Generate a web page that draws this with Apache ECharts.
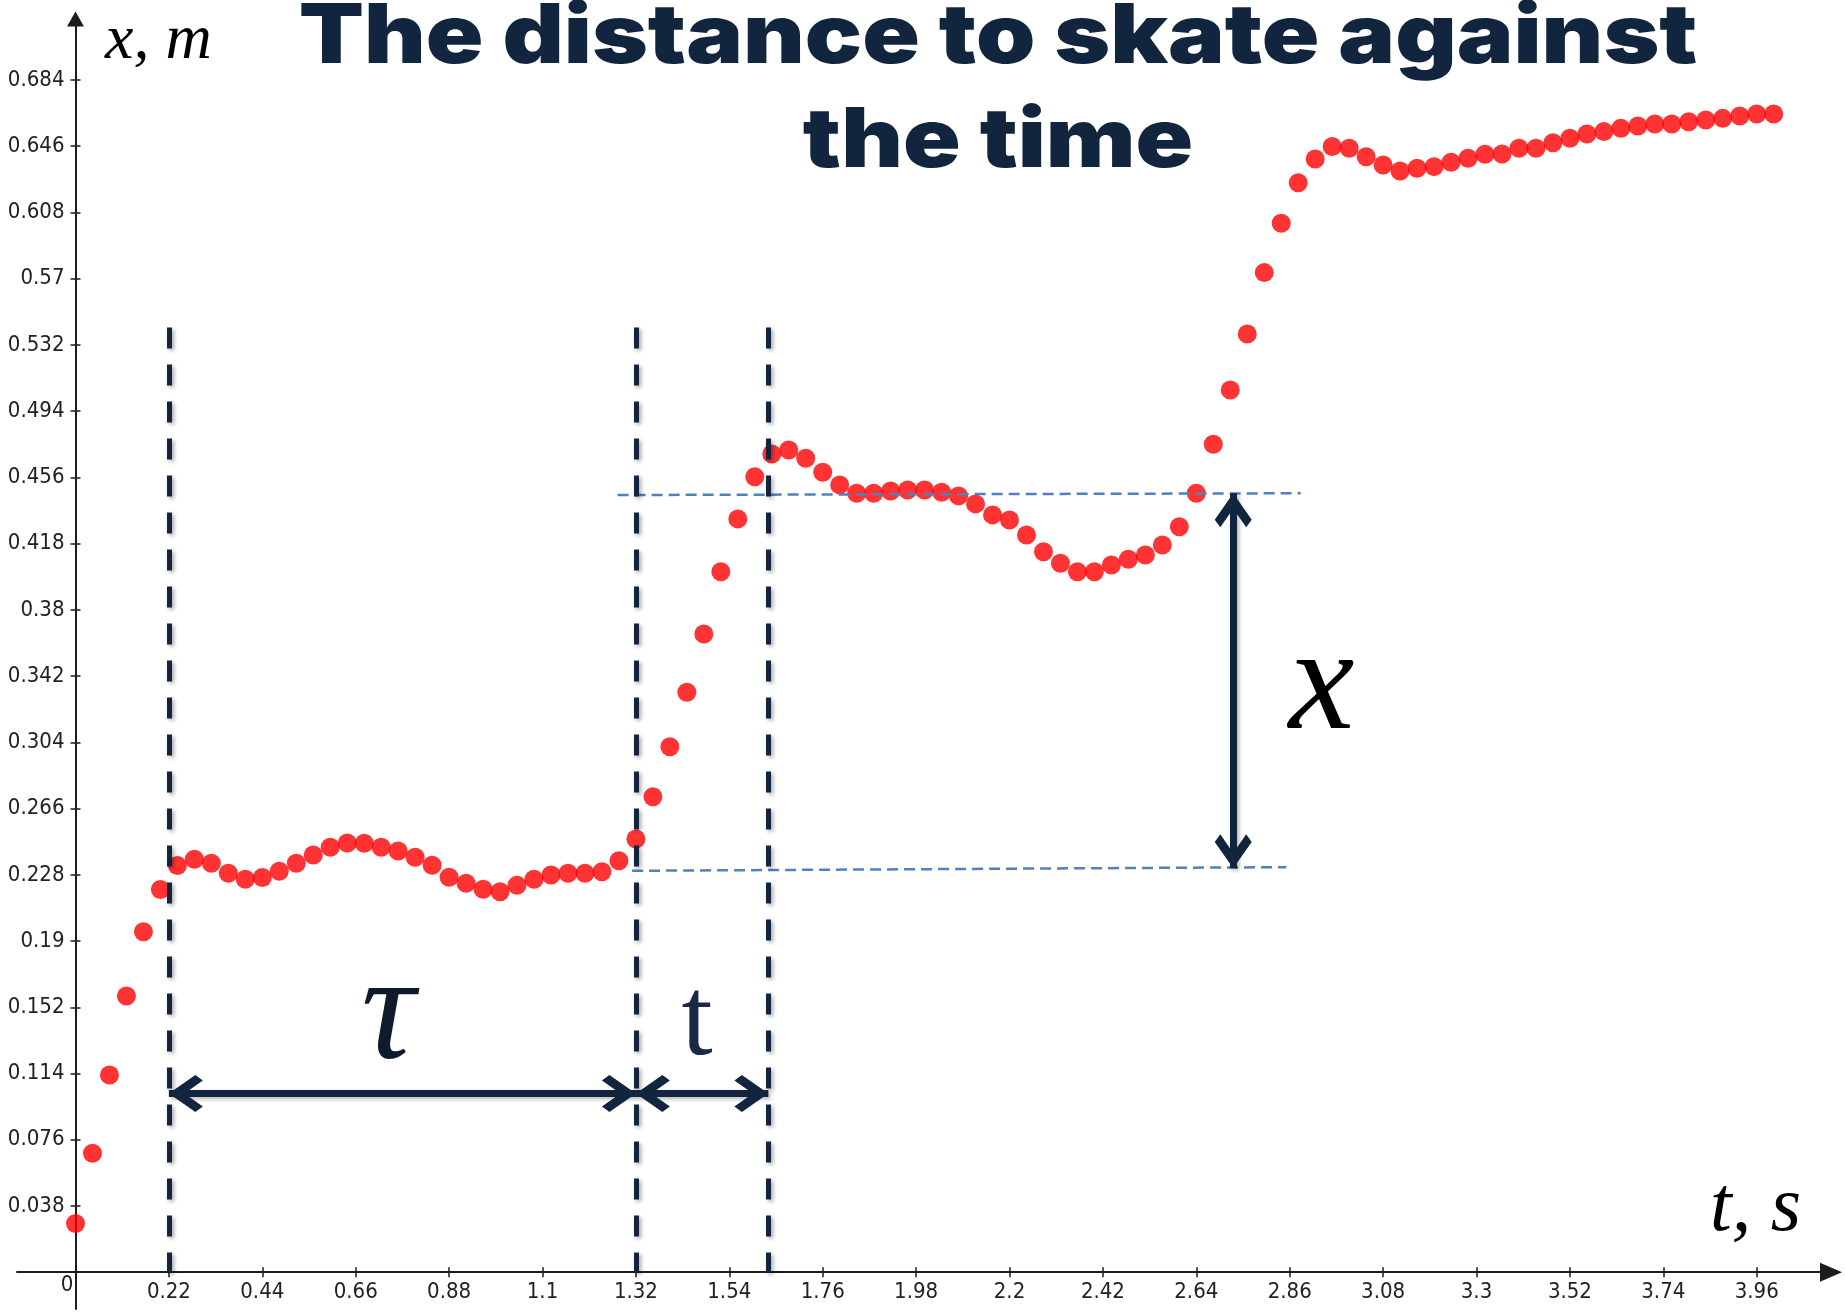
<!DOCTYPE html>
<html>
<head>
<meta charset="utf-8">
<script src="https://cdn.jsdelivr.net/npm/echarts@6/dist/echarts.min.js"></script>
<style>
  html, body { margin: 0; padding: 0; background: #ffffff; }
  #chart { width: 1845px; height: 1312px; }
</style>
</head>
<body>
<div id="chart"></div>
<script>
// Frame times, s
const times = [
  0.00, 0.04, 0.08, 0.12, 0.16, 0.20, 0.24, 0.28, 0.32, 0.36,
  0.40, 0.44, 0.48, 0.52, 0.56, 0.60, 0.64, 0.68, 0.72, 0.76,
  0.80, 0.84, 0.88, 0.92, 0.96, 1.00, 1.04, 1.08, 1.12, 1.16,
  1.20, 1.24, 1.28, 1.32, 1.36, 1.40, 1.44, 1.48, 1.52, 1.56,
  1.60, 1.64, 1.68, 1.72, 1.76, 1.80, 1.84, 1.88, 1.92, 1.96,
  2.00, 2.04, 2.08, 2.12, 2.16, 2.20, 2.24, 2.28, 2.32, 2.36,
  2.40, 2.44, 2.48, 2.52, 2.56, 2.60, 2.64, 2.68, 2.72, 2.76,
  2.80, 2.84, 2.88, 2.92, 2.96, 3.00, 3.04, 3.08, 3.12, 3.16,
  3.20, 3.24, 3.28, 3.32, 3.36, 3.40, 3.44, 3.48, 3.52, 3.56,
  3.60, 3.64, 3.68, 3.72, 3.76, 3.80, 3.84, 3.88, 3.92, 3.96,
  4.00
];

// Distance covered by the skate, m
const distances = [
  0.0280, 0.0683, 0.1132, 0.1585, 0.1953, 0.2196, 0.2333, 0.2369, 0.2346, 0.2289,
  0.2255, 0.2265, 0.2300, 0.2346, 0.2394, 0.2438, 0.2463, 0.2461, 0.2438, 0.2417,
  0.2381, 0.2335, 0.2266, 0.2232, 0.2197, 0.2183, 0.2220, 0.2255, 0.2279, 0.2289,
  0.2289, 0.2298, 0.2361, 0.2486, 0.2728, 0.3015, 0.3327, 0.3662, 0.4019, 0.4322,
  0.4564, 0.4694, 0.4717, 0.4670, 0.4590, 0.4517, 0.4469, 0.4469, 0.4482, 0.4488,
  0.4488, 0.4475, 0.4454, 0.4408, 0.4345, 0.4316, 0.4230, 0.4134, 0.4067, 0.4019,
  0.4019, 0.4058, 0.4090, 0.4115, 0.4172, 0.4277, 0.4469, 0.4750, 0.5061, 0.5383,
  0.5735, 0.6018, 0.6251, 0.6387, 0.6458, 0.6448, 0.6400, 0.6352, 0.6318, 0.6334,
  0.6343, 0.6368, 0.6391, 0.6414, 0.6416, 0.6448, 0.6448, 0.6480, 0.6506, 0.6530,
  0.6544, 0.6563, 0.6576, 0.6588, 0.6588, 0.6601, 0.6611, 0.6620, 0.6634, 0.6645,
  0.6645
];

// Axis tick values
const xTicks = [0.22, 0.44, 0.66, 0.88, 1.1, 1.32, 1.54, 1.76, 1.98, 2.2, 2.42, 2.64, 2.86, 3.08, 3.3, 3.52, 3.74, 3.96];
const yTicks = [0.038, 0.076, 0.114, 0.152, 0.19, 0.228, 0.266, 0.304, 0.342, 0.38, 0.418, 0.456, 0.494, 0.532, 0.57, 0.608, 0.646, 0.684];

// Interval boundaries (τ between the first two, t between the last two)
const guideTimes = [0.22, 1.32, 1.632];
const guideTop = 0.542;

// Resting levels before and after the push: [t1, x1, t2, x2]
const levelLines = [
  [1.277, 0.4459, 2.886, 0.4469],
  [1.311, 0.2303, 2.852, 0.2324]
];

// Double-headed span arrows: [t1, x1, t2, x2]
const spanArrows = [
  [0.22, 0.1025, 1.32, 0.1025],
  [1.32, 0.1025, 1.632, 0.1025],
  [2.727, 0.4469, 2.727, 0.2317]
];
const spanNames = ['τ', 't', 'x'];
const spanNameAt = [[0.736, 0.1453], [1.464, 0.1420], [2.935, 0.3343]];

const titleLines = ['The distance to skate against', 'the time'];
const xName = 't, s';
const yName = 'x, m';

const NAVY = '#12253f';
const AXIS = '#1c1c1c';
const LABEL_FONT = "'Liberation Sans Narrow', 'Arial Narrow', 'DejaVu Sans Condensed', sans-serif";
const SERIF = "'Liberation Serif', 'DejaVu Serif', serif";
const TITLE_FONT = "900 82px Inter, 'DejaVu Sans', sans-serif";
const CHEVRON = 'path://M50,0 L100,70 L85,90 L50,41 L15,90 L0,70 Z';

const fmt = v => String(+v.toFixed(3));

// Plot area: the axes run a little past the origin on the left and bottom
const W = 1845, H = 1312;
const box = { left: 17, right: 14, top: 19, bottom: 3 };
const xMin = -0.1378, xMax = 4.135;
const yMin = -0.0211, yMax = 0.719;
// Pixel offsets of the zero lines, so the tick labels sit on the axes themselves
const zeroLeft = box.left + (0 - xMin) / (xMax - xMin) * (W - box.left - box.right);
const zeroBottom = box.bottom + (0 - yMin) / (yMax - yMin) * (H - box.top - box.bottom);

const tickStyle = { color: AXIS, width: 1.5 };
const labelBase = { fontFamily: LABEL_FONT, fontSize: 22, color: '#222222' };

const chart = echarts.init(document.getElementById('chart'), null, { renderer: 'canvas' });

const arrowEnd = coord => ({ coord, symbol: CHEVRON, symbolSize: [37, 34], symbolOffset: [0, 17] });

const option = {
  animation: false,
  backgroundColor: '#ffffff',
  grid: [
    { left: box.left, right: box.right, top: box.top, bottom: box.bottom, outerBoundsMode: 'none' },
    { left: zeroLeft, right: box.right, top: box.top, bottom: zeroBottom, outerBoundsMode: 'none' }
  ],
  xAxis: [
    {
      gridIndex: 0, type: 'value', min: xMin, max: xMax, position: 'bottom',
      axisLine: { onZero: true, onZeroAxisIndex: 0, lineStyle: { color: AXIS, width: 2 },
                  symbol: ['none', 'triangle'], symbolSize: [19, 22] },
      axisTick: { show: true, length: 5, customValues: xTicks, lineStyle: tickStyle },
      axisLabel: { show: false },
      splitLine: { show: false }
    },
    {
      gridIndex: 0, type: 'value', min: xMin, max: xMax, position: 'top',
      axisLine: { show: false, onZero: true, onZeroAxisIndex: 0 },
      axisTick: { show: true, length: 5, customValues: xTicks, lineStyle: tickStyle },
      axisLabel: { show: false },
      splitLine: { show: false }
    },
    {
      gridIndex: 1, type: 'value', min: 0, max: xMax, position: 'bottom',
      axisLine: { show: false, onZero: false },
      axisTick: { show: false },
      axisLabel: Object.assign({
        customValues: [0].concat(xTicks), margin: 8,
        formatter: v => (v === 0 ? '{z|0}' : '{a|' + fmt(v) + '}'),
        rich: { a: { lineHeight: 24 }, z: { lineHeight: 10, padding: [0, 17, 0, 0] } }
      }, labelBase),
      splitLine: { show: false }
    }
  ],
  yAxis: [
    {
      gridIndex: 0, type: 'value', min: yMin, max: yMax, position: 'left',
      axisLine: { onZero: true, onZeroAxisIndex: 0, lineStyle: { color: AXIS, width: 2 },
                  symbol: ['none', 'triangle'], symbolSize: [17, 15] },
      axisTick: { show: true, length: 5, customValues: yTicks, lineStyle: tickStyle },
      axisLabel: { show: false },
      splitLine: { show: false }
    },
    {
      gridIndex: 0, type: 'value', min: yMin, max: yMax, position: 'right',
      axisLine: { show: false, onZero: true, onZeroAxisIndex: 0 },
      axisTick: { show: true, length: 5, customValues: yTicks, lineStyle: tickStyle },
      axisLabel: { show: false },
      splitLine: { show: false }
    },
    {
      gridIndex: 1, type: 'value', min: 0, max: yMax, position: 'left',
      axisLine: { show: false, onZero: false },
      axisTick: { show: false },
      axisLabel: Object.assign({ customValues: yTicks, margin: 11, formatter: v => fmt(v) }, labelBase),
      splitLine: { show: false }
    }
  ],
  series: [
    {
      name: 'distance',
      type: 'scatter',
      xAxisIndex: 0, yAxisIndex: 0,
      z: 2,
      silent: true,
      symbol: 'circle',
      symbolSize: 19,
      itemStyle: { color: '#ff0000' },
      data: times.map((t, i) => [t, distances[i]])
    },
    {
      name: 'levels',
      type: 'scatter',
      xAxisIndex: 0, yAxisIndex: 0,
      z: 3,
      silent: true,
      data: [],
      markLine: {
        silent: true,
        symbol: ['none', 'none'],
        label: { show: false },
        lineStyle: { color: '#4f81bd', width: 2.5, type: [11, 6] },
        data: levelLines.map(l => [{ coord: [l[0], l[1]] }, { coord: [l[2], l[3]] }])
      }
    },
    {
      name: 'guides',
      type: 'scatter',
      xAxisIndex: 0, yAxisIndex: 0,
      z: 4,
      silent: true,
      data: [],
      markLine: {
        silent: true,
        symbol: ['none', 'none'],
        label: { show: false },
        lineStyle: {
          color: '#13243e', width: 5, type: [21, 16],
          shadowColor: 'rgba(0,0,0,0.35)', shadowBlur: 4, shadowOffsetX: 2, shadowOffsetY: 2
        },
        data: guideTimes.map(t => [{ coord: [t, guideTop] }, { coord: [t, 0] }])
      }
    },
    {
      name: 'spans',
      type: 'scatter',
      xAxisIndex: 0, yAxisIndex: 0,
      z: 5,
      silent: true,
      data: [],
      markLine: {
        silent: true,
        symbol: CHEVRON,
        symbolSize: 36,
        label: { show: false },
        lineStyle: {
          color: NAVY, width: 7, type: 'solid',
          shadowColor: 'rgba(0,0,0,0.3)', shadowBlur: 4, shadowOffsetX: 2, shadowOffsetY: 2
        },
        data: spanArrows.map(a => [arrowEnd([a[0], a[1]]), arrowEnd([a[2], a[3]])])
      }
    }
  ]
};

chart.setOption(option);

// Text elements: title, axis names and the span symbols
const spanFonts = [
  'italic 150px ' + SERIF,
  'normal 112px ' + SERIF,
  'italic 148px ' + SERIF
];
const spanColors = ['#0f1b2d', '#1b2a44', '#000000'];

const graphics = [
  { type: 'text', x: 998, y: 38, z: 10, silent: true, scaleX: 1.16,
    style: { text: titleLines[0], fill: NAVY, font: TITLE_FONT, align: 'center', verticalAlign: 'middle' } },
  { type: 'text', x: 998, y: 142, z: 10, silent: true, scaleX: 1.16,
    style: { text: titleLines[1], fill: NAVY, font: TITLE_FONT, align: 'center', verticalAlign: 'middle' } },
  { type: 'text', x: 105, y: 41, z: 10, silent: true,
    style: { text: yName, fill: '#000000', font: 'italic 64px ' + SERIF, align: 'left', verticalAlign: 'middle' } },
  { type: 'text', x: 1710, y: 1209, z: 10, silent: true,
    style: { text: xName, fill: '#000000', font: 'italic 78px ' + SERIF, align: 'left', verticalAlign: 'middle' } }
];

spanNameAt.forEach((p, i) => {
  const px = chart.convertToPixel({ seriesIndex: 0 }, p);
  graphics.push({
    type: 'text', x: px[0], y: px[1], z: 10, silent: true,
    style: { text: spanNames[i], fill: spanColors[i], font: spanFonts[i], align: 'center', verticalAlign: 'middle' }
  });
});

chart.setOption({ graphic: graphics });
</script>
</body>
</html>
